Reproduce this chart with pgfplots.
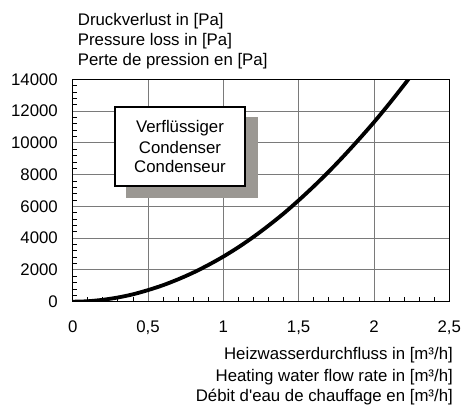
\documentclass[border=0pt]{standalone}
\usepackage{fontspec}
\setmainfont{Liberation Sans}[Ligatures=TeXOff]
\usepackage{pgfplots}
\pgfplotsset{compat=1.18}
\definecolor{shadowgray}{HTML}{9B9893}
\definecolor{gridgray}{HTML}{7A7A7A}
\newcommand{\lblfont}{\fontsize{16.8pt}{20pt}\selectfont}
\begin{document}
\begin{tikzpicture}
\useasboundingbox (-72.7pt,-102.3pt) rectangle (389.3pt,301.7pt);
\begin{axis}[
  at={(0pt,0pt)}, anchor=south west,
  scale only axis,
  width=376.6pt, height=222.4pt,
  xmin=0, xmax=2.5, ymin=0, ymax=14000,
  xtick={0,0.5,1,1.5,2,2.5},
  xticklabels={0,{0,5},1,{1,5},2,{2,5}},
  ytick={0,2000,4000,6000,8000,10000,12000,14000},
  yticklabels={0,2000,4000,6000,8000,10000,12000,14000},
  scaled y ticks=false, scaled x ticks=false,
  minor x tick num=4,
  minor y tick num=4,
  major tick length=0pt,
  minor tick length=4.5pt,
  tick align=inside,
  xtick pos=bottom, ytick pos=left,
  every minor tick/.style={black, line width=0.8pt},
  grid=major,
  major grid style={gridgray, line width=0.9pt},
  axis line style={black, line width=1.3pt},
  xticklabel style={font=\lblfont, anchor=base, inner sep=0pt, yshift=-31pt},
  yticklabel style={font=\lblfont, anchor=east, inner sep=0pt, xshift=-14.7pt},
  clip=true,
]
\addplot[black, line width=3.8pt, smooth] coordinates {
(0,0) (0.1,30) (0.2,120) (0.3,265) (0.4,465) (0.5,730) (0.6,1040) (0.7,1410)
(0.8,1830) (0.9,2310) (1.0,2840) (1.1,3430) (1.2,4080) (1.3,4790) (1.4,5550)
(1.5,6380) (1.6,7260) (1.7,8190) (1.8,9180) (1.9,10220) (2.0,11300)
(2.1,12450) (2.2,13650) (2.24,14150)
};
\end{axis}
% label box with shadow
\fill[shadowgray] (53.3pt,103.7pt) rectangle (185.3pt,184.7pt);
\draw[black, line width=2pt, fill=white] (42.3pt,115.7pt) rectangle (172.3pt,194.7pt);
\node[font=\lblfont, anchor=base, inner sep=0pt] at (107.3pt,169.4pt) {Verflüssiger};
\node[font=\lblfont, anchor=base, inner sep=0pt] at (107.3pt,148.4pt) {Condenser};
\node[font=\lblfont, anchor=base, inner sep=0pt] at (107.3pt,129.0pt) {Condenseur};
% y axis title
\node[font=\lblfont, anchor=base west, inner sep=0pt] at (5pt,276.4pt) {Druckverlust in [Pa]};
\node[font=\lblfont, anchor=base west, inner sep=0pt] at (5pt,256.4pt) {Pressure loss in [Pa]};
\node[font=\lblfont, anchor=base west, inner sep=0pt] at (5pt,236.4pt) {Perte de pression en [Pa]};
% x axis title
\node[font=\lblfont, anchor=base east, inner sep=0pt] at (380.3pt,-57.3pt) {Heizwasserdurchfluss in [m³/h]};
\node[font=\lblfont, anchor=base east, inner sep=0pt] at (380.3pt,-79.3pt) {Heating water flow rate in [m³/h]};
\node[font=\lblfont, anchor=base east, inner sep=0pt] at (380.3pt,-99.6pt) {Débit d'eau de chauffage en [m³/h]};
\end{tikzpicture}
\end{document}
